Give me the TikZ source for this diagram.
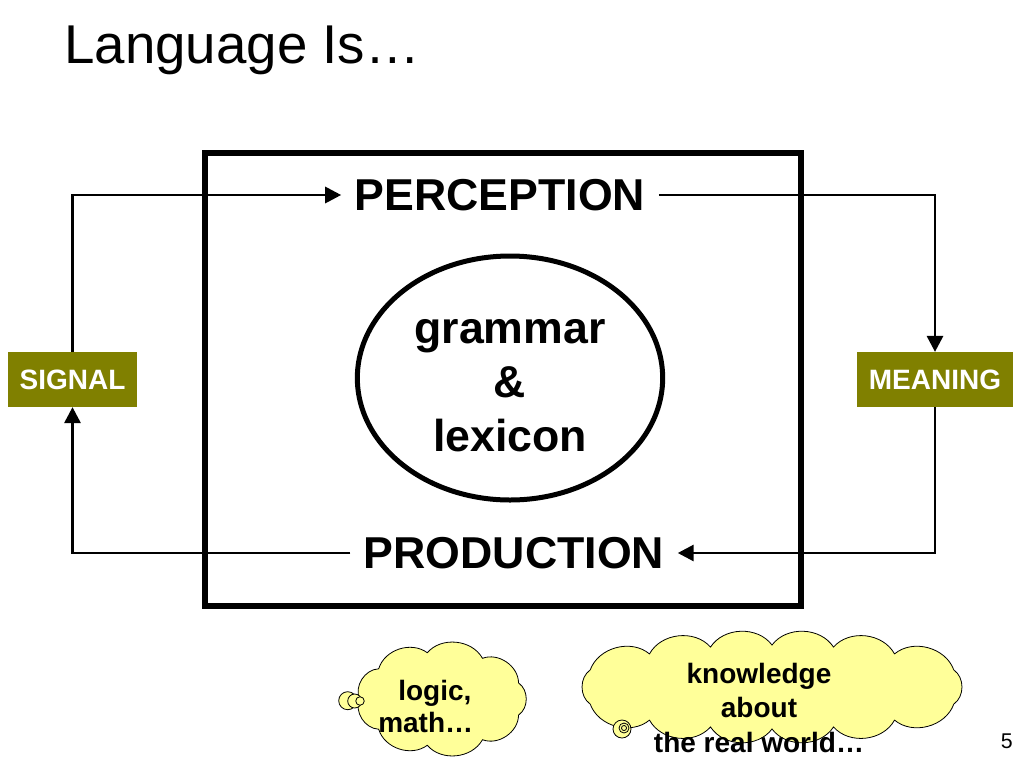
\documentclass[tikz,border=0pt]{standalone}
\usepackage{fontspec}
\setmainfont{Liberation Sans}
\usetikzlibrary{arrows.meta,shapes.geometric}
\definecolor{olivetag}{RGB}{128,128,0}
\definecolor{thought}{RGB}{255,255,153}

\tikzset{
  stage/.style={font=\fontsize{33.5}{40.5}\selectfont\bfseries, inner xsep=10pt, inner ysep=0pt},
  tag/.style={fill=olivetag, text=white, font=\fontsize{21}{25}\selectfont\bfseries, minimum height=41pt, inner sep=0pt},
  flow/.style={line width=2.2pt, -{Triangle[length=12pt,width=12pt]}},
  puffy/.style={draw, fill=thought, line width=0.6pt},
  musing/.style={font=\fontsize{21}{25.9}\selectfont\bfseries, inner sep=0pt},
}

\begin{document}
\begin{tikzpicture}[x=0.75pt,y=-0.75pt]
  \useasboundingbox (0,0) rectangle (1024,768);

  \node[anchor=base west, inner sep=0pt, font=\fontsize{41}{49}\selectfont] (title) at (64,63) {Language Is…};

  % the language box
  \draw[line width=4.5pt] (205,153) rectangle (801,606);

  \node[stage] (perc) at (500,195) {PERCEPTION};
  \node[stage] (prod) at (514,553) {PRODUCTION};

  \node[draw, ellipse, line width=3.75pt, minimum width=229pt, minimum height=183pt] (lex) at (510,378) {};
  \node[stage, align=center, inner sep=0pt] (lextext) at (510,386) {grammar\\\&\\lexicon};

  \node[tag, minimum width=97pt] (signal) at (72.5,379.5) {SIGNAL};
  \node[tag, minimum width=117pt] (meaning) at (935,379.5) {MEANING};

  \draw[flow] (signal.north) |- (perc.west);
  \draw[flow] (perc.east) -| (meaning.north);
  \draw[flow] (meaning.south) |- (prod.east);
  \draw[flow] (prod.west) -| (signal.south);

  % thought clouds
  \draw[puffy] ({441.5+82*cos(20)},{699-47*sin(20)})
    \foreach \a in {60,100,...,340,380} {to[bend right=55] ({441.5+82*cos(\a)},{699-47*sin(\a)})} -- cycle;
  \draw[puffy] (347.7,700.7) circle (6.75pt);
  \draw[puffy] (354.7,701) circle (5.25pt);
  \draw[puffy] (360,701) circle (3.2pt);
  \node[musing, anchor=north west, align=left, font=\fontsize{21}{24}\selectfont\bfseries] (logictext) at (378,680) {\hspace*{15pt}logic,\\math…};

  \draw[puffy] ({772+199*cos(24)},{687-42*sin(24)})
    \foreach \a in {52,72,90,108,128,156,204,232,252,270,288,308,336,384} {to[bend right=55] ({772+199*cos(\a)},{687-42*sin(\a)})} -- cycle;
  \draw[puffy] (622,729) circle (6.75pt);
  \draw[puffy] (624,728) circle (3.75pt);
  \draw[puffy] (624,728) circle (1.9pt);
  \node[musing, anchor=north, align=center] (worldtext) at (759,662.5) {knowledge\\about\\the real world…};

  \node[anchor=base east, inner sep=0pt, font=\fontsize{16}{19}\selectfont] (pageno) at (1013,748) {5};
\end{tikzpicture}
\end{document}
